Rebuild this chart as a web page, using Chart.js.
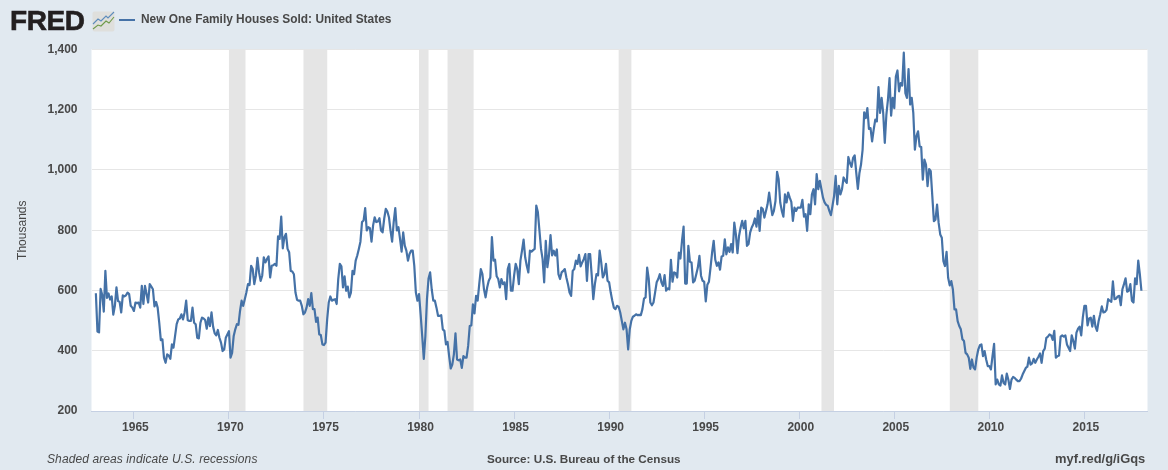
<!DOCTYPE html>
<html>
<head>
<meta charset="utf-8">
<script src="https://cdn.jsdelivr.net/npm/chart.js@4"></script>
<style>
html,body{margin:0;padding:0;background:#e1e9f0;width:1168px;height:470px;overflow:hidden}
#wrap{position:relative;width:1168px;height:470px}
canvas{position:absolute;left:0;top:0}
.t{position:absolute;font-family:"Liberation Sans",Arial,sans-serif;color:#484848;white-space:nowrap;font-size:12px;line-height:16px}
#logo{position:absolute;left:10px;top:4px;font:bold 28px/34px "Liberation Sans",Arial,sans-serif;color:#231f20;letter-spacing:-.4px;-webkit-text-stroke:.6px #231f20}
#icon{position:absolute;left:92px;top:11px}
</style>
</head>
<body>
<div id="wrap">
<canvas id="c" width="1168" height="470"></canvas>
<div id="logo">FRED</div>
<svg id="icon" width="23" height="21" viewBox="0 0 23 21">
<rect x="0.5" y="0.5" width="22" height="20" rx="2" fill="#dfdfdc"/>
<path d="M1 13 L6 8 L9 10 L14 5 L16 7 L22 1" fill="none" stroke="#5d8cbc" stroke-width="1.1"/>
<path d="M1 18 L6 14 L9 15 L14 10 L17 12 L22 6" fill="none" stroke="#6f9a4a" stroke-width="1.1"/>
</svg>
<div class="t" style="left:47px;top:451px;font-style:italic;letter-spacing:.1px">Shaded areas indicate U.S. recessions</div>
<div class="t" style="left:487px;top:451px;font-weight:bold;font-size:11.7px">Source: U.S. Bureau of the Census</div>
<div class="t" style="left:1055px;top:451px;font-weight:bold;font-size:12.9px">myf.red/g/iGqs</div>
</div>
<script>
const seriesName = "New One Family Houses Sold: United States";
const yAxisName = "Thousands";
const firstYear = 1963;
const yTickValues = [200,400,600,800,1000,1200,1400];
const xTickYears = [1965,1970,1975,1980,1985,1990,1995,2000,2005,2010,2015];
const recessionStarts = [1970.0,1973.92,1980.0,1981.5,1990.5,2001.17,2007.92];
const recessionEnds = [1970.87,1975.17,1980.5,1982.87,1991.17,2001.83,2009.42];
const sales1960s = [
591,464,461,605,586,530,665,575,590,570,580,520,
549,610,565,562,527,584,580,584,593,588,549,543,
532,560,558,560,543,615,555,615,588,560,621,613,
604,547,562,543,493,435,438,377,360,388,384,373,
421,410,449,488,504,507,521,504,527,566,501,499,
499,543,493,488,443,441,493,510,507,502,473,510,
482,527,480,458,451,469,443,427,399,404,443,454];
const sales1970s = [
465,377,393,449,471,488,486,532,566,549,571,593,
621,618,682,671,621,649,708,660,632,649,710,693,
704,713,643,682,684,688,682,780,771,845,740,777,
788,738,727,665,663,654,593,569,566,566,549,521,
527,543,571,549,591,538,538,496,510,454,452,421,
419,427,504,560,580,566,569,571,555,638,688,680,
610,647,599,613,577,593,665,654,699,716,738,762,
827,832,873,799,810,807,762,816,843,827,829,840,
799,793,838,871,862,843,799,762,827,873,799,810,
771,729,793,749,732,699,721,732,732,682,593,566];
const sales1980s = [
588,521,449,373,449,571,640,660,604,566,566,543,
516,516,518,471,466,421,429,382,341,354,388,458,
371,368,371,343,382,377,377,416,482,484,554,524,
582,566,621,671,654,604,577,610,632,643,777,699,
702,647,638,610,638,621,627,571,671,688,599,599,
649,688,671,621,699,732,769,710,682,660,732,729,
734,738,882,860,799,738,704,627,765,677,716,784,
716,732,716,736,654,638,660,665,671,643,621,593,
582,665,671,699,688,718,680,693,704,721,632,721,
721,650,571,621,654,650,732,693,643,654,688,632];
const sales1990s = [
627,593,566,543,538,549,546,527,499,471,493,471,
404,471,499,513,516,521,518,519,518,538,573,577,
676,638,560,551,560,593,627,638,654,627,615,651,
599,607,604,702,629,660,657,643,726,706,765,812,
623,623,748,695,693,627,632,654,676,715,649,632,
629,564,619,629,676,726,765,702,682,693,669,713,
715,770,720,743,728,754,726,825,787,724,781,809,
831,806,831,748,754,792,809,820,839,812,864,798,
875,870,842,864,886,925,886,850,864,897,994,969,
892,864,845,919,892,925,908,894,831,875,864,875];
const sales2000s = [
875,875,901,845,853,798,886,853,919,936,886,986,
936,964,936,908,892,884,881,864,850,881,914,980,
886,947,919,936,975,964,957,1043,1023,1010,1040,1048,
990,937,990,1018,1067,1191,1172,1205,1136,1139,1095,1134,
1167,1161,1275,1189,1239,1189,1090,1183,1233,1305,1180,1239,
1205,1310,1330,1261,1288,1280,1389,1255,1239,1335,1217,1239,
1189,1067,1112,1128,1078,1076,968,1034,1018,946,1003,996,
913,830,835,885,824,786,775,697,681,728,642,617,
631,603,537,537,498,482,471,438,432,393,388,377,
340,371,344,338,377,404,418,421,382,399,371,349];
const sales2010s = [
349,338,382,423,288,304,288,284,318,293,288,324,
304,273,304,313,310,304,299,299,307,321,332,343,
347,377,354,358,373,360,371,380,391,360,399,407,
443,447,454,451,436,466,377,382,384,447,451,447,
451,421,410,399,451,432,407,460,473,480,451,510,
549,549,484,507,510,480,516,480,466,499,521,547,
527,529,536,571,566,562,630,571,573,580,582,551,
604,621,640,596,599,621,566,560,640,621,699,654,
599];

const allSales = [...sales1960s,...sales1970s,...sales1980s,...sales1990s,...sales2000s,...sales2010s];
const points = allSales.map((v,i)=>({x:firstYear+i/12,y:v}));
const font = "'Liberation Sans', Arial, sans-serif";

const recessionBands = {
  id:'recessionBands',
  beforeDatasetsDraw(chart){
    const {ctx,chartArea:a,scales:{x}} = chart;
    ctx.save();
    ctx.fillStyle='#e5e5e5';
    recessionStarts.forEach((s,i)=>{
      const l=x.getPixelForValue(s), r=x.getPixelForValue(recessionEnds[i]);
      ctx.fillRect(l,a.top,r-l,a.bottom-a.top);
    });
    ctx.restore();
  }
};
const plotBackground = {
  id:'plotBackground',
  beforeDraw(chart){
    const {ctx,chartArea:a}=chart;
    ctx.save();ctx.fillStyle='#ffffff';ctx.fillRect(a.left,a.top,a.right-a.left,a.bottom-a.top);ctx.restore();
  }
};
const legendPlacement = {
  id:'legendPlacement',
  afterLayout(chart){
    const l=chart.legend; const w=l.right-l.left;
    l.left=113; l.right=113+w; l.top=8; l.bottom=32;
  }
};

new Chart(document.getElementById('c'),{
  type:'line',
  data:{datasets:[{label:seriesName,data:points,borderColor:'#4572a7',backgroundColor:'#4572a7',borderWidth:2.2,pointRadius:0,tension:0,borderJoinStyle:'round',clip:false}]},
  plugins:[plotBackground,recessionBands,legendPlacement],
  options:{
    responsive:false,animation:false,devicePixelRatio:1,
    parsing:false,normalized:true,
    layout:{padding:{left:0,right:20.5,top:21.5,bottom:0}},
    plugins:{
      tooltip:{enabled:false},
      decimation:{enabled:false},
      legend:{display:true,position:'top',align:'start',
        labels:{boxWidth:16,boxHeight:2,padding:6,color:'#484848',font:{family:font,size:11.9,weight:'bold'},
          generateLabels(chart){
            const items=Chart.defaults.plugins.legend.labels.generateLabels(chart);
            items.forEach(i=>{i.lineWidth=0;});
            return items;
          }}}
    },
    scales:{
      x:{type:'linear',min:1962.77,max:2018.32,
        afterBuildTicks(s){s.ticks=xTickYears.map(v=>({value:v}));},
        afterFit(s){s.height=59;},
        border:{color:'#c5d0e3',width:1},
        grid:{drawOnChartArea:false,drawTicks:true,tickLength:8,color:'#c5d0e3'},
        ticks:{autoSkip:false,maxRotation:0,padding:1,labelOffset:1.5,color:'#484848',font:{family:font,size:12,weight:'bold'},callback:v=>String(v)}
      },
      y:{type:'linear',min:200,max:1400,
        afterBuildTicks(s){s.ticks=yTickValues.map(v=>({value:v}));},
        afterFit(s){s.width=91.5;},
        border:{display:false},
        grid:{color:'#e6e6e6',lineWidth:1,drawTicks:false},
        ticks:{padding:14,color:'#484848',font:{family:font,size:12,weight:'bold'},callback:v=>v.toLocaleString('en-US')},
        title:{display:true,text:yAxisName,color:'#484848',font:{family:font,size:12},padding:{top:15,bottom:0}}
      }
    }
  }
});
</script>
</body>
</html>
